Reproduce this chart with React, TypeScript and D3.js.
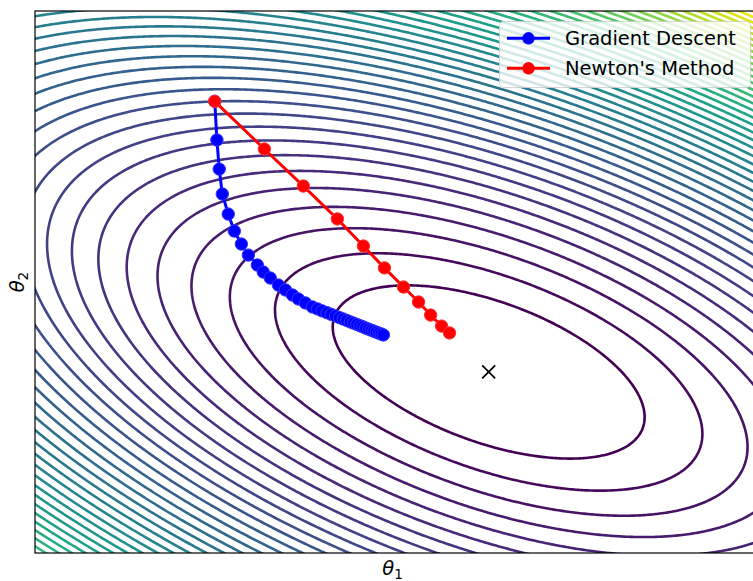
import * as d3 from 'd3';

const W = 753;
const H = 581;
const plot = { left: 35, top: 11, right: 754, bottom: 553 };

const theta1Domain = [-2, 2];
const theta2Domain = [-1.5, 1.5];

// quadratic loss bowl
const optimum = [0.524, -0.498];
const hessian = [2.08, 1.963, 6.81]; // h11, h12, h22
const levelStart = 1.14;
const levelStep = 1;
const levelCount = 43;

// gradient descent iterates
const gdTheta1 = [
  -1.0, -0.988, -0.975, -0.958, -0.925, -0.891, -0.852, -0.813, -0.763, -0.73, -0.691, -0.646,
  -0.607, -0.568, -0.535, -0.496, -0.457, -0.428, -0.402, -0.376, -0.352, -0.328, -0.306, -0.285,
  -0.265, -0.246, -0.227, -0.209, -0.192, -0.176, -0.16, -0.144, -0.129, -0.115, -0.101, -0.087,
  -0.074, -0.062,
];
const gdTheta2 = [
  1.0, 0.786, 0.625, 0.487, 0.376, 0.282, 0.21, 0.149, 0.094, 0.055, 0.022, -0.017, -0.044, -0.072,
  -0.094, -0.116, -0.138, -0.149, -0.16, -0.17, -0.179, -0.188, -0.197, -0.205, -0.213, -0.221,
  -0.228, -0.235, -0.242, -0.248, -0.255, -0.261, -0.267, -0.272, -0.278, -0.283, -0.288, -0.293,
];

// newton's method iterates
const newtonTheta1 = [-1.0, -0.724, -0.507, -0.318, -0.173, -0.056, 0.05, 0.134, 0.201, 0.262, 0.306];
const newtonTheta2 = [1.0, 0.736, 0.531, 0.349, 0.199, 0.078, -0.028, -0.111, -0.183, -0.244, -0.282];

const loss = (t1, t2) => {
  const dx = t1 - optimum[0];
  const dy = t2 - optimum[1];
  return hessian[0] * dx * dx + 2 * hessian[1] * dx * dy + hessian[2] * dy * dy;
};

const x = d3.scaleLinear().domain(theta1Domain).range([plot.left, plot.right]);
const y = d3.scaleLinear().domain(theta2Domain).range([plot.bottom, plot.top]);

const Theta = ({ sub, size }) => (
  <>
    <tspan fontStyle="italic">θ</tspan>
    <tspan fontSize={size * 0.7} dy={size * 0.22}>
      {sub}
    </tspan>
  </>
);

const App = () => {
  const cs = 2;
  const pad = 3;
  const nx = Math.ceil((plot.right - plot.left) / cs) + pad * 2;
  const ny = Math.ceil((plot.bottom - plot.top) / cs) + pad * 2;
  const values = new Array(nx * ny);
  for (let j = 0; j < ny; j++) {
    const t2 = y.invert(plot.top + (j - pad + 0.5) * cs);
    for (let i = 0; i < nx; i++) {
      values[j * nx + i] = loss(x.invert(plot.left + (i - pad + 0.5) * cs), t2);
    }
  }
  const levels = d3.range(levelCount).map((k) => levelStart + k * levelStep);
  const contours = d3.contours().size([nx, ny]).thresholds(levels)(values);
  const path = d3.geoPath(
    d3.geoTransform({
      point(px, py) {
        this.stream.point(plot.left + (px - pad) * cs, plot.top + (py - pad) * cs);
      },
    })
  );
  const color = (v) => d3.interpolateViridis((v - levels[0]) / (levels[levels.length - 1] - levels[0]));

  const gd = gdTheta1.map((v, i) => [v, gdTheta2[i]]);
  const nt = newtonTheta1.map((v, i) => [v, newtonTheta2[i]]);
  const line = d3
    .line()
    .x((d) => x(d[0]))
    .y((d) => y(d[1]));

  const ox = x(optimum[0]);
  const oy = y(optimum[1]);
  const legendX = 499.5;
  const legendY = 21.5;
  const mr = 6.2;

  return (
    <svg
      width={W}
      height={H}
      style={{ position: 'absolute', left: 0, top: 0, background: '#fff' }}
      fontFamily="DejaVu Sans, sans-serif"
    >
      <defs>
        <clipPath id="plotClip">
          <rect x={plot.left} y={plot.top} width={plot.right - plot.left} height={plot.bottom - plot.top} />
        </clipPath>
      </defs>
      <g clipPath="url(#plotClip)">
        {contours.map((c, i) => (
          <path key={i} d={path(c)} fill="none" stroke={color(c.value)} strokeWidth={2.6} />
        ))}
        <path d={line(gd)} fill="none" stroke="#0000ff" strokeWidth={3} />
        {gd.map((d, i) => (
          <circle key={i} cx={x(d[0])} cy={y(d[1])} r={mr} fill="#0000ff" stroke="#3333ff" strokeWidth={1} />
        ))}
        <path d={line(nt)} fill="none" stroke="#ff0000" strokeWidth={3} />
        {nt.map((d, i) => (
          <circle key={i} cx={x(d[0])} cy={y(d[1])} r={mr} fill="#ff0000" stroke="#ff3333" strokeWidth={1} />
        ))}
        <g stroke="#000" strokeWidth={1.8}>
          <line x1={ox - 6.5} y1={oy - 6.5} x2={ox + 6.5} y2={oy + 6.5} />
          <line x1={ox - 6.5} y1={oy + 6.5} x2={ox + 6.5} y2={oy - 6.5} />
        </g>
      </g>
      <rect
        x={plot.left}
        y={plot.top}
        width={plot.right - plot.left}
        height={plot.bottom - plot.top}
        fill="none"
        stroke="#000"
        strokeWidth={1.2}
      />

      <g>
        <rect
          x={legendX}
          y={legendY}
          width={251}
          height={66}
          rx={4}
          fill="#fff"
          fillOpacity={0.8}
          stroke="#ccc"
          strokeOpacity={0.8}
        />
        {[
          { label: 'Gradient Descent', c: '#0000ff', cy: 38.3 },
          { label: "Newton's Method", c: '#ff0000', cy: 68.3 },
        ].map((e) => (
          <g key={e.label}>
            <line x1={507} x2={550} y1={e.cy} y2={e.cy} stroke={e.c} strokeWidth={3} />
            <circle cx={528.5} cy={e.cy} r={mr} fill={e.c} />
            <text x={565} y={e.cy + 7} fontSize={19.5} fill="#000">
              {e.label}
            </text>
          </g>
        ))}
      </g>

      <text x={(plot.left + plot.right) / 2 - 2} y={575} fontSize={19.5} textAnchor="middle">
        <Theta sub="1" size={19.5} />
      </text>
      <text
        transform={`translate(24, ${(plot.top + plot.bottom) / 2}) rotate(-90)`}
        fontSize={19.5}
        textAnchor="middle"
      >
        <Theta sub="2" size={19.5} />
      </text>
    </svg>
  );
};

export default App;
